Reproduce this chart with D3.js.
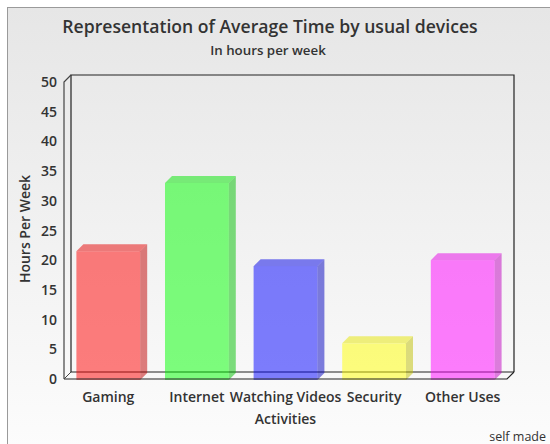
<!DOCTYPE html>
<html><head><meta charset="utf-8">
<script src="https://cdn.jsdelivr.net/npm/d3@7"></script>
<style>html,body{margin:0;padding:0;background:#fff;}svg{display:block;font-family:"Open Sans",sans-serif;}</style>
</head><body>
<script>
const categories = ["Gaming", "Internet", "Watching Videos", "Security", "Other Uses"];
const values = [21.5, 33, 19, 6, 20];
const yTicks = [0, 5, 10, 15, 20, 25, 30, 35, 40, 45, 50];
const baseColors = ["#ff0000", "#00ff00", "#0000ff", "#ffff00", "#ff00ff"];

const W = 550, H = 444;
const svg = d3.select("body").append("svg").attr("width", W).attr("height", H);
const defs = svg.append("defs");
const grad = defs.append("linearGradient").attr("id", "bg").attr("x1", 0).attr("y1", 0).attr("x2", 0).attr("y2", 1);
grad.append("stop").attr("offset", "0%").attr("stop-color", "#e6e6e6");
grad.append("stop").attr("offset", "100%").attr("stop-color", "#ffffff");

svg.append("rect").attr("x", 7.5).attr("y", 7.5).attr("width", 600).attr("height", 500)
  .attr("fill", "url(#bg)").attr("stroke", "#9a9a9a").attr("stroke-width", 1);

const x0 = 64, x1 = 507, d = 7;
const x = d3.scaleBand().domain(categories).range([x0, x1]).paddingInner(0.28).paddingOuter(0.14);
const y = d3.scaleLinear().domain([0, 50]).range([379, 82]);

const frame = svg.append("g").attr("fill", "none").attr("stroke", "#222").attr("stroke-width", 1.2);
frame.append("path").attr("d", `M${x0 + d},${y(0) - d} L${x0 + d},${y(50) - d} L${x1 + d},${y(50) - d} L${x1 + d},${y(0) - d}`);
frame.append("path").attr("d", `M${x0},${y(0)} L${x0},${y(50)} L${x0 + d},${y(50) - d}`).attr("stroke", "#444");
frame.append("path").attr("d", `M${x0 + d},${y(0) - d} L${x1 + d},${y(0) - d}`);

const bars = svg.append("g");
categories.forEach((c, i) => {
  const col = d3.color(baseColors[i]);
  const bx = x(c), bw = x.bandwidth(), ty = y(values[i]), by = y(0) + 1;
  const g = bars.append("g");
  const side = d3.interpolateRgb(col, "#000")(0.25);
  const top = d3.interpolateRgb(col, "#000")(0.1);
  g.append("path").attr("d", `M${bx + bw},${by} L${bx + bw + d},${by - d} L${bx + bw + d},${ty - d} L${bx + bw},${ty} Z`)
    .attr("fill", side).attr("fill-opacity", 0.5);
  g.append("path").attr("d", `M${bx},${ty} L${bx + d},${ty - d} L${bx + bw + d},${ty - d} L${bx + bw},${ty} Z`)
    .attr("fill", top).attr("fill-opacity", 0.5);
  g.append("rect").attr("x", bx).attr("y", ty).attr("width", bw).attr("height", by - ty)
    .attr("fill", col).attr("fill-opacity", 0.5);
});

svg.append("path").attr("d", `M${x0},${y(0)} L${x1},${y(0)} L${x1 + d},${y(0) - d}`)
  .attr("fill", "none").attr("stroke", "#222").attr("stroke-width", 1.2);
svg.append("path").attr("d", `M${x0},${y(0)} L${x0 + d},${y(0) - d}`)
  .attr("fill", "none").attr("stroke", "#444").attr("stroke-width", 1);

svg.append("g").selectAll("text").data(yTicks).join("text")
  .attr("x", 57).attr("y", t => y(t)).attr("dy", "0.36em").attr("text-anchor", "end")
  .attr("font-size", 14).attr("font-weight", 600).attr("fill", "#333").text(t => t);

svg.append("g").selectAll("text").data(categories).join("text")
  .attr("x", c => x(c) + x.bandwidth() / 2).attr("y", 402).attr("text-anchor", "middle")
  .attr("font-size", 14).attr("font-weight", 600).attr("fill", "#333").text(c => c);

svg.append("text").attr("x", 270).attr("y", 33).attr("text-anchor", "middle")
  .attr("font-size", 17.6).attr("font-weight", 600).attr("fill", "#333")
  .text("Representation of Average Time by usual devices");
svg.append("text").attr("x", 268).attr("y", 55).attr("text-anchor", "middle")
  .attr("font-size", 13.3).attr("font-weight", 600).attr("fill", "#333").text("In hours per week");
svg.append("text").attr("x", (x0 + x1) / 2).attr("y", 424).attr("text-anchor", "middle")
  .attr("font-size", 14).attr("font-weight", 600).attr("fill", "#333").text("Activities");
svg.append("text").attr("transform", `translate(30,229) rotate(-90)`).attr("text-anchor", "middle")
  .attr("font-size", 14).attr("font-weight", 600).attr("fill", "#333").text("Hours Per Week");
svg.append("text").attr("x", 546).attr("y", 441).attr("text-anchor", "end")
  .attr("font-size", 12.5).attr("fill", "#333").text("self made");
</script>
</body></html>
